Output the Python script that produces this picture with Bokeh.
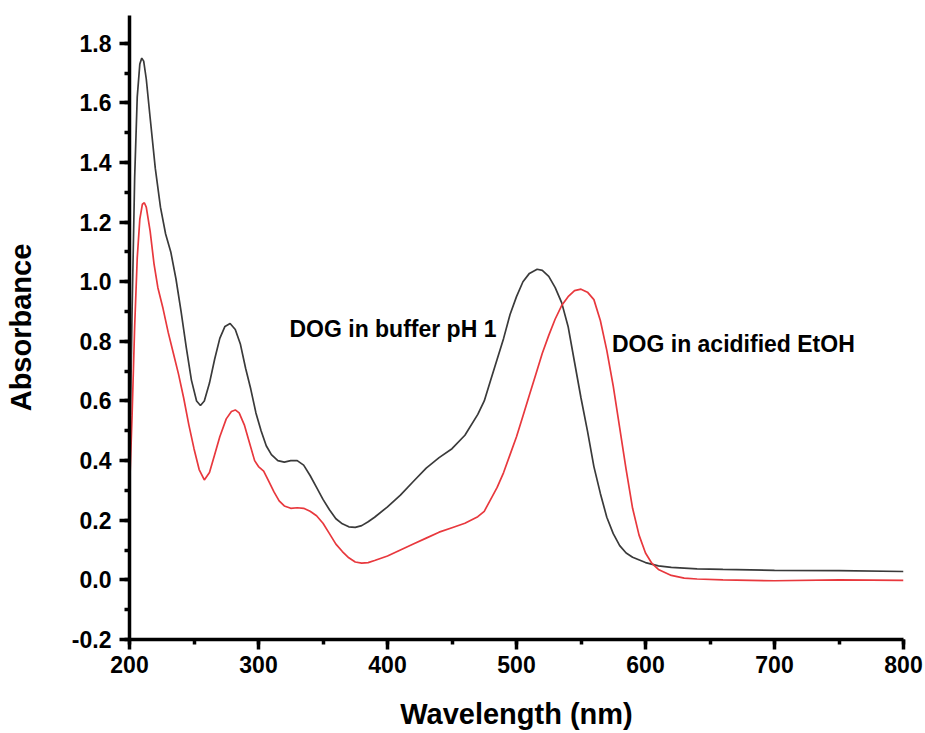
from bokeh.plotting import figure
from bokeh.models import Range1d, SingleIntervalTicker, PrintfTickFormatter, Label
from bokeh.embed import file_html
from bokeh.resources import INLINE

# ---- data ----
wl_buffer = [200, 202, 204, 206, 208, 209.5, 211, 213, 216, 220, 224, 228, 232, 236, 240, 244, 248, 252,
             255, 258, 262, 266, 270, 274, 278, 282, 286, 290, 294, 298, 302, 306, 310, 315, 320, 325,
             330, 335, 340, 345, 350, 355, 360, 365, 370, 375, 380, 385, 390, 400, 410, 420, 430, 440,
             450, 460, 470, 475, 480, 485, 490, 495, 500, 505, 510, 516, 520, 525, 530, 535, 540, 545,
             550, 555, 560, 565, 570, 575, 580, 585, 590, 600, 610, 620, 640, 660, 700, 750, 800]
abs_buffer = [0.35, 0.90, 1.35, 1.62, 1.73, 1.75, 1.74, 1.68, 1.55, 1.38, 1.25, 1.16, 1.10, 1.01, 0.90, 0.78, 0.67, 0.60,
              0.585, 0.60, 0.66, 0.74, 0.81, 0.85, 0.86, 0.84, 0.79, 0.71, 0.64, 0.56, 0.50, 0.45, 0.42, 0.40, 0.395, 0.40,
              0.40, 0.385, 0.35, 0.31, 0.27, 0.235, 0.205, 0.188, 0.178, 0.176, 0.182, 0.195, 0.21, 0.245, 0.284, 0.33, 0.375, 0.41,
              0.44, 0.485, 0.555, 0.60, 0.67, 0.74, 0.81, 0.89, 0.95, 1.00, 1.028, 1.042, 1.038, 1.018, 0.98, 0.93, 0.85, 0.73,
              0.61, 0.50, 0.38, 0.29, 0.21, 0.155, 0.115, 0.09, 0.076, 0.058, 0.047, 0.042, 0.037, 0.035, 0.032, 0.031, 0.028]

wl_etoh = [200, 202, 204, 206, 208, 210, 211.5, 213, 216, 219, 222, 226, 230, 234, 238, 242, 246, 250, 254,
           258, 262, 266, 270, 275, 279, 282, 285, 289, 293, 297, 300, 304, 308, 312, 316, 320, 325, 330, 335,
           340, 345, 350, 355, 360, 365, 370, 375, 380, 385, 390, 400, 410, 420, 430, 440, 450, 460, 470, 475,
           480, 485, 490, 495, 500, 505, 510, 515, 520, 525, 530, 535, 540, 545, 550, 555, 560, 565, 570, 575,
           580, 585, 590, 595, 600, 605, 610, 620, 630, 640, 660, 700, 750, 800]
abs_etoh = [0.30, 0.55, 0.85, 1.08, 1.21, 1.26, 1.265, 1.25, 1.17, 1.06, 0.98, 0.91, 0.83, 0.76, 0.69, 0.61, 0.52, 0.44, 0.37,
            0.335, 0.36, 0.42, 0.48, 0.54, 0.565, 0.57, 0.56, 0.52, 0.46, 0.40, 0.38, 0.365, 0.33, 0.295, 0.265, 0.248, 0.24, 0.242, 0.24,
            0.23, 0.215, 0.19, 0.155, 0.12, 0.095, 0.074, 0.06, 0.056, 0.058, 0.065, 0.08, 0.10, 0.12, 0.14, 0.16, 0.175, 0.19, 0.212, 0.23,
            0.27, 0.31, 0.36, 0.42, 0.48, 0.55, 0.62, 0.69, 0.76, 0.82, 0.875, 0.92, 0.95, 0.97, 0.975, 0.965, 0.94, 0.87, 0.77, 0.65,
            0.51, 0.37, 0.24, 0.15, 0.09, 0.055, 0.035, 0.015, 0.006, 0.003, 0.0, -0.003, 0.0, -0.002]

label_buffer = "DOG in buffer pH 1"
label_etoh = "DOG in acidified EtOH"
label_buffer_pos = (324, 0.84)
label_etoh_pos = (574, 0.79)

x_title = "Wavelength (nm)"
y_title = "Absorbance"

FONT = "Liberation Sans"

p = figure(width=924, height=732, output_backend="svg", toolbar_location=None,
           x_range=Range1d(200, 800), y_range=Range1d(-0.2, 1.893),
           min_border_left=129, min_border_right=21, min_border_top=15, min_border_bottom=90)
p.outline_line_color = None
p.xgrid.visible = False
p.ygrid.visible = False

p.line(wl_buffer, abs_buffer, line_color="#3a3a3a", line_width=1.7)
p.line(wl_etoh, abs_etoh, line_color="#e8383d", line_width=1.7)

p.xaxis.ticker = SingleIntervalTicker(interval=100, num_minor_ticks=2)
p.yaxis.ticker = SingleIntervalTicker(interval=0.2, num_minor_ticks=2)
p.yaxis.formatter = PrintfTickFormatter(format="%.1f")

for ax in (p.xaxis[0], p.yaxis[0]):
    ax.axis_line_width = 3.5
    ax.axis_line_color = "black"
    ax.major_tick_line_width = 3.5
    ax.minor_tick_line_width = 3.5
    ax.major_tick_in = 0
    ax.minor_tick_in = 0
    ax.major_tick_out = 10
    ax.minor_tick_out = 5
    ax.major_label_text_font = FONT
    ax.major_label_text_font_style = "bold"
    ax.major_label_text_font_size = "23px"
    ax.major_label_text_color = "black"
    ax.axis_label_text_font = FONT
    ax.axis_label_text_font_style = "bold"
    ax.axis_label_text_font_size = "29px"
    ax.axis_label_text_color = "black"

p.xaxis.axis_label = x_title
p.yaxis.axis_label = y_title
p.xaxis.major_label_standoff = 6
p.xaxis.axis_label_standoff = 22
p.yaxis.major_label_standoff = 8
p.yaxis.axis_label_standoff = 32

for txt, pos in ((label_buffer, label_buffer_pos), (label_etoh, label_etoh_pos)):
    p.add_layout(Label(x=pos[0], y=pos[1], text=txt, text_font=FONT, text_font_style="bold",
                       text_font_size="23px", text_baseline="middle", text_align="left",
                       text_color="black"))

open("out.html", "w").write(file_html(p, INLINE))
